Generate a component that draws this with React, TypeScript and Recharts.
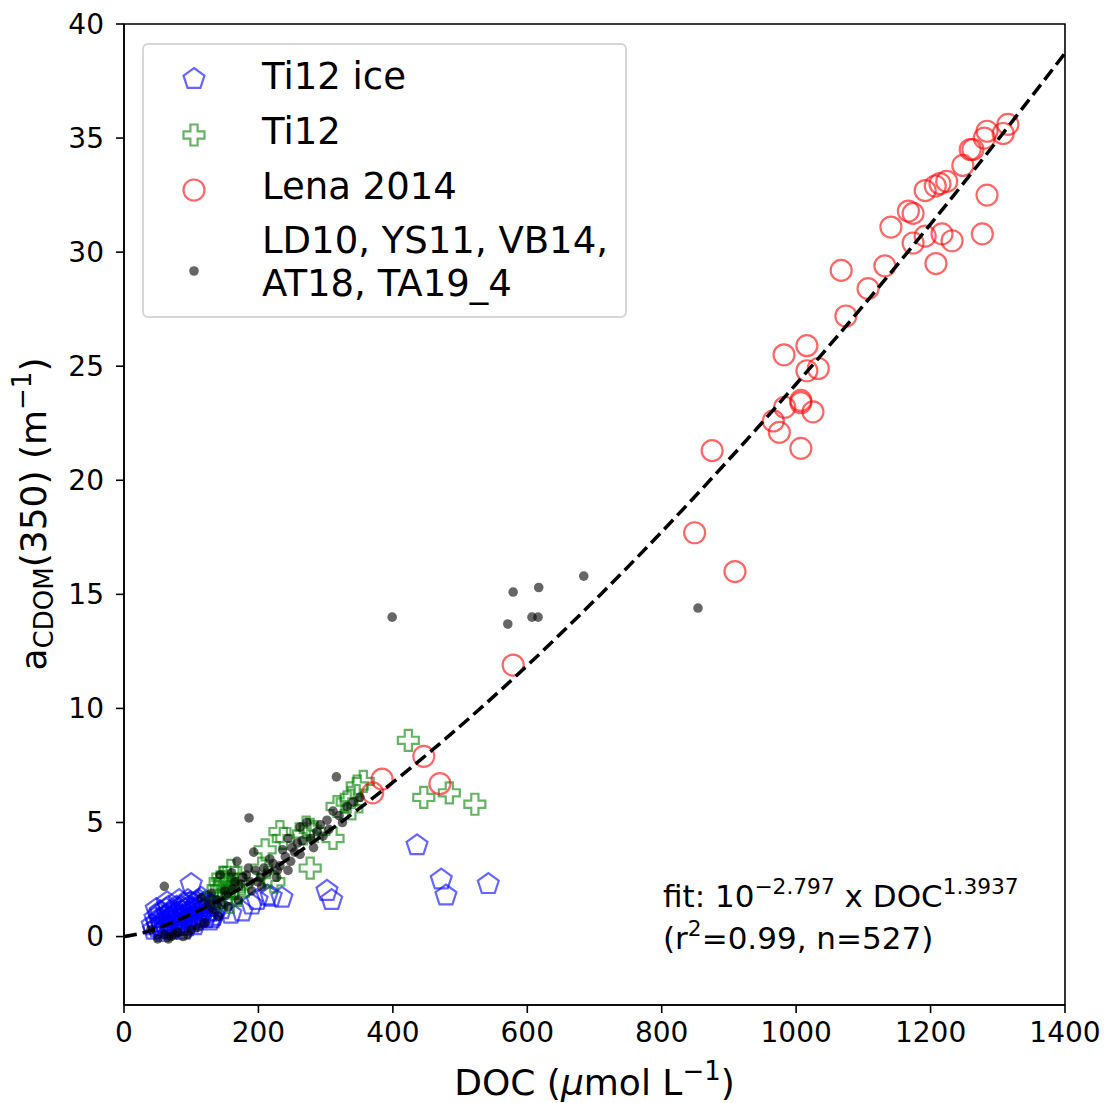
import React from 'react';
import { ScatterChart, Scatter, XAxis, YAxis, ReferenceArea, Legend } from 'recharts';

const FONT = '"DejaVu Sans", sans-serif';

const xTicks = [0, 200, 400, 600, 800, 1000, 1200, 1400];
const yTicks = [0, 5, 10, 15, 20, 25, 30, 35, 40];

// [DOC, aCDOM(350)]
const ti12Ice: [number, number][] = [
  [436, 4.0], [472, 2.5], [479, 1.8], [542, 2.3], [302, 2.0], [309, 1.6], [235, 1.7], [219, 1.75],
  [198, 1.6], [190, 1.4], [176, 1.1], [159, 1.0], [131, 0.8], [100, 2.3], [64, 1.5], [213, 1.8],
  [145, 1.2], [120, 1.5], [42, 0.5], [46, 0.8], [50, 0.4], [52, 1.0], [55, 0.6], [58, 0.3],
  [60, 0.9], [63, 1.2], [66, 0.5], [68, 0.8], [71, 1.1], [73, 0.4], [76, 0.7], [78, 1.3],
  [81, 0.9], [84, 0.5], [86, 1.1], [89, 1.4], [92, 0.7], [94, 1.0], [97, 1.3], [100, 0.6],
  [103, 0.9], [106, 1.2], [109, 1.5], [112, 0.8], [115, 1.1], [118, 1.4], [122, 1.0], [126, 1.3],
  [57, 0.2], [70, 0.3], [88, 0.3], [105, 0.5], [48, 1.2], [82, 1.6], [95, 1.6], [115, 1.7],
  [135, 1.1], [128, 0.7], [44, 0.3], [49, 0.6], [53, 0.8], [56, 0.45], [59, 0.65], [62, 0.35],
  [64, 0.95], [67, 0.65], [69, 1.0], [72, 0.55], [74, 0.9], [77, 0.45], [79, 1.05], [80, 0.6],
  [83, 0.8], [85, 1.3], [87, 0.6], [90, 0.9], [91, 1.2], [93, 0.45], [96, 0.8], [98, 1.1],
  [99, 1.5], [101, 0.75], [104, 1.1], [107, 0.7], [108, 1.35], [110, 1.0], [113, 1.3], [116, 0.9],
  [119, 1.2], [121, 0.8], [124, 1.5], [127, 1.1], [130, 1.4], [133, 0.9], [61, 0.55], [75, 1.0],
  [85, 0.75], [102, 1.25], [111, 1.6], [66, 1.3], [54, 1.1], [139, 1.3],
];

const ti12: [number, number][] = [
  [423, 8.6], [446, 6.1], [484, 6.3], [522, 5.8], [356, 6.8], [347, 6.6], [338, 6.1], [332, 5.9],
  [317, 5.7], [339, 5.6], [311, 4.3], [277, 4.7], [267, 4.5], [232, 4.6], [237, 4.3], [210, 3.8],
  [277, 3.0], [205, 3.0], [214, 2.6], [147, 2.6], [143, 2.4], [283, 4.6], [271, 4.8], [223, 2.4],
  [153, 2.6], [149, 2.2], [164, 2.1], [159, 2.9], [135, 1.8], [140, 2.1], [145, 1.6], [150, 2.4],
  [155, 1.9], [160, 2.2], [165, 2.6], [170, 1.9], [175, 2.3], [158, 1.5],
];

const lena2014: [number, number][] = [
  [1315, 35.6], [1308, 35.2], [1284, 35.3], [1280, 35.0], [1263, 34.5], [1259, 34.5], [1248, 33.8],
  [1224, 33.1], [1214, 33.0], [1207, 32.9], [1192, 32.7], [1284, 32.5], [1174, 31.7], [1167, 31.8],
  [1141, 31.1], [1217, 30.8], [1232, 30.5], [1277, 30.8], [1192, 30.7], [1174, 30.4], [1208, 29.5],
  [1132, 29.4], [1067, 29.2], [1107, 28.4], [1074, 27.2], [1016, 25.9], [982, 25.5], [1016, 24.8],
  [1033, 24.9], [1007, 23.5], [1007, 23.4], [983, 23.2], [1025, 23.0], [966, 22.6], [975, 22.1],
  [1007, 21.4], [875, 21.3], [849, 17.7], [909, 16.0], [579, 11.9], [446, 7.9], [384, 6.9],
  [370, 6.3], [470, 6.7],
];

const otherCruises: [number, number][] = [
  [399, 14.0], [579, 15.1], [617, 15.3], [684, 15.8], [571, 13.7], [607, 14.0], [616, 14.0], [854, 14.4],
  [316, 7.0], [186, 5.2], [60, 2.2], [40, 0.3], [302, 5.1], [311, 5.5], [272, 5.0], [262, 4.8],
  [287, 4.6], [265, 4.2], [244, 4.3], [254, 3.7], [240, 3.5], [232, 3.1], [244, 2.9], [217, 3.4],
  [193, 3.7], [213, 2.8], [227, 2.6], [168, 3.3], [185, 3.0], [160, 2.8], [143, 2.7], [177, 2.6],
  [199, 2.4], [341, 5.9], [351, 6.1], [332, 5.7], [50, -0.1], [60, 0.1], [70, 0.0], [80, 0.2],
  [95, 0.1], [110, 0.4], [120, 0.6], [140, 0.9], [155, 1.3], [170, 1.6], [190, 2.0], [205, 2.2],
  [150, 2.0], [165, 2.4], [130, 1.9], [115, 1.7], [125, 1.5], [138, 1.6], [258, 4.1], [278, 4.3],
  [292, 4.9], [296, 4.4], [305, 4.7], [320, 5.3], [325, 5.0], [250, 3.9], [236, 3.8], [222, 3.2],
  [208, 3.0], [196, 2.9], [182, 2.7], [174, 2.3], [162, 2.1], [152, 1.8], [248, 3.3], [262, 3.6],
  [282, 3.9], [228, 2.9], [203, 2.6], [188, 2.4], [145, 1.4], [132, 1.2], [100, 0.3], [88, 0.0],
  [66, -0.1], [75, 0.1],
];

// dashed fit curve, sampled off the figure
const fitDoc = [0, 25, 50, 100, 200, 300, 400, 500, 600, 700, 800, 900, 1000, 1100, 1200, 1300, 1400];
const fitA = [0, 0.14, 0.37, 0.98, 2.57, 4.53, 6.76, 9.22, 11.88, 14.73, 17.74, 20.91, 24.22, 27.66, 31.23, 34.92, 38.72];

const toPts = (arr: [number, number][]) => arr.map(([x, y]) => ({ x, y }));
const fitData = fitDoc.map((x, i) => ({ x, y: fitA[i] }));

const pentagonPath = (cx: number, cy: number, r = 11) => {
  const pts = [0, 1, 2, 3, 4].map((k) => {
    const a = (-90 + k * 72) * Math.PI / 180;
    return `${cx + r * Math.cos(a)},${cy + r * Math.sin(a)}`;
  });
  return `M${pts.join('L')}Z`;
};

const plusPath = (cx: number, cy: number, s = 10.5, a = 3.6) =>
  `M${cx - a},${cy - s}H${cx + a}V${cy - a}H${cx + s}V${cy + a}H${cx + a}V${cy + s}H${cx - a}V${cy + a}H${cx - s}V${cy - a}H${cx - a}Z`;

const Pentagon = (p: any) => (
  <path d={pentagonPath(p.cx, p.cy)} fill="none" stroke="#0000ff" strokeOpacity={0.6} strokeWidth={2.2} />
);
const Plus = (p: any) => (
  <path d={plusPath(p.cx, p.cy)} fill="none" stroke="#008000" strokeOpacity={0.6} strokeWidth={2.2} />
);
const Ring = (p: any) => (
  <circle cx={p.cx} cy={p.cy} r={10.5} fill="none" stroke="#ff0000" strokeOpacity={0.6} strokeWidth={2.2} />
);
const Dot = (p: any) => <circle cx={p.cx} cy={p.cy} r={4.8} fill="#000" fillOpacity={0.6} />;
const NoDot = () => <g />;

const legendRows = [
  { name: ['Ti12 ice'], Shape: Pentagon, my: 34, ty: 31.5 },
  { name: ['Ti12'], Shape: Plus, my: 90, ty: 86 },
  { name: ['Lena 2014'], Shape: Ring, my: 145, ty: 141 },
  { name: ['LD10, YS11, VB14,', 'AT18, TA19_4'], Shape: Dot, my: 226, ty: 195 },
];

const LegendBox = () => (
  <div style={{ position: 'relative', width: 485, height: 275, boxSizing: 'border-box', border: '2px solid #d6d6d6', borderRadius: 6, background: 'rgba(255,255,255,0.85)', fontFamily: FONT }}>
    {legendRows.map(({ name, Shape, my, ty }) => (
      <React.Fragment key={name[0]}>
        <svg width={40} height={40} style={{ position: 'absolute', left: 50 - 20, top: my - 20 }}>
          <Shape cx={20} cy={20} />
        </svg>
        <div style={{ position: 'absolute', left: 118, top: ty - 21.5, fontSize: 37, lineHeight: '43px', color: '#000', whiteSpace: 'nowrap' }}>
          {name.map((n) => <div key={n}>{n}</div>)}
        </div>
      </React.Fragment>
    ))}
  </div>
);

const XLabel = () => (
  <text x={594.5} y={1095} textAnchor="middle" fontSize={36} fontFamily={FONT} fill="#000">
    DOC (<tspan fontStyle="italic">μ</tspan>mol L<tspan dy={-15} fontSize={26}>−1</tspan><tspan dy={15}>)</tspan>
  </text>
);

const YLabel = () => (
  <text x={0} y={0} transform="translate(46,514) rotate(-90)" textAnchor="middle" fontSize={36} fontFamily={FONT} fill="#000">
    a<tspan dy={7} fontSize={26}>CDOM</tspan><tspan dy={-7}>(350) (m</tspan><tspan dy={-15} fontSize={26}>−1</tspan><tspan dy={15}>)</tspan>
  </text>
);

const sup: React.CSSProperties = { fontSize: '0.7em', position: 'relative', top: '-0.62em', lineHeight: 0 };

export default function App() {
  return (
    <div style={{ position: 'absolute', left: 0, top: 0, width: 1108, height: 1103, background: '#fff', fontFamily: FONT }}>
      <ScatterChart width={1108} height={1103} margin={{ top: 24, right: 43, left: 0, bottom: 0 }}>
        <XAxis
          type="number" dataKey="x" domain={[0, 1400]} ticks={xTicks} height={98}
          tick={{ fontSize: 28, fill: '#000', fontFamily: FONT }} tickSize={8} tickMargin={9}
          stroke="#000" axisLine={{ stroke: '#000', strokeWidth: 1.6 }} tickLine={{ stroke: '#000', strokeWidth: 1.6 }}
          label={{ content: XLabel }} allowDataOverflow
        />
        <YAxis
          type="number" dataKey="y" domain={[-3, 40]} ticks={yTicks} width={124}
          tick={{ fontSize: 28, fill: '#000', fontFamily: FONT }} tickSize={8} tickMargin={12}
          stroke="#000" axisLine={{ stroke: '#000', strokeWidth: 1.6 }} tickLine={{ stroke: '#000', strokeWidth: 1.6 }}
          label={{ content: YLabel }} allowDataOverflow
        />
        <ReferenceArea x1={0} x2={1400} y1={-3} y2={40} fill="none" stroke="#000" strokeWidth={1.6} />
        <Scatter name="Ti12 ice" data={toPts(ti12Ice)} shape={Pentagon} isAnimationActive={false} />
        <Scatter name="Ti12" data={toPts(ti12)} shape={Plus} isAnimationActive={false} />
        <Scatter name="Lena 2014" data={toPts(lena2014)} shape={Ring} isAnimationActive={false} />
        <Scatter name="LD10, YS11, VB14, AT18, TA19_4" data={toPts(otherCruises)} shape={Dot} isAnimationActive={false} />
        <Scatter
          name="fit" data={fitData} fill="#000" shape={NoDot} legendType="none"
          line={{ stroke: '#000', strokeWidth: 3.5, strokeDasharray: '13 6', fill: 'none' }}
          lineJointType="monotoneX" isAnimationActive={false}
        />
        <Legend
          layout="vertical" align="center" verticalAlign="middle"
          content={LegendBox}
          wrapperStyle={{ position: 'absolute', left: 142, top: 43, width: 485, height: 275 }}
        />
      </ScatterChart>
      <div style={{ position: 'absolute', left: 663, top: 881, fontSize: 31, lineHeight: '31px', color: '#000', whiteSpace: 'nowrap' }}>
        fit: 10<span style={sup}>−2.797</span> x DOC<span style={sup}>1.3937</span>
      </div>
      <div style={{ position: 'absolute', left: 663, top: 923, fontSize: 31, lineHeight: '31px', color: '#000', whiteSpace: 'nowrap' }}>
        (r<span style={sup}>2</span>=0.99, n=527)
      </div>
    </div>
  );
}
